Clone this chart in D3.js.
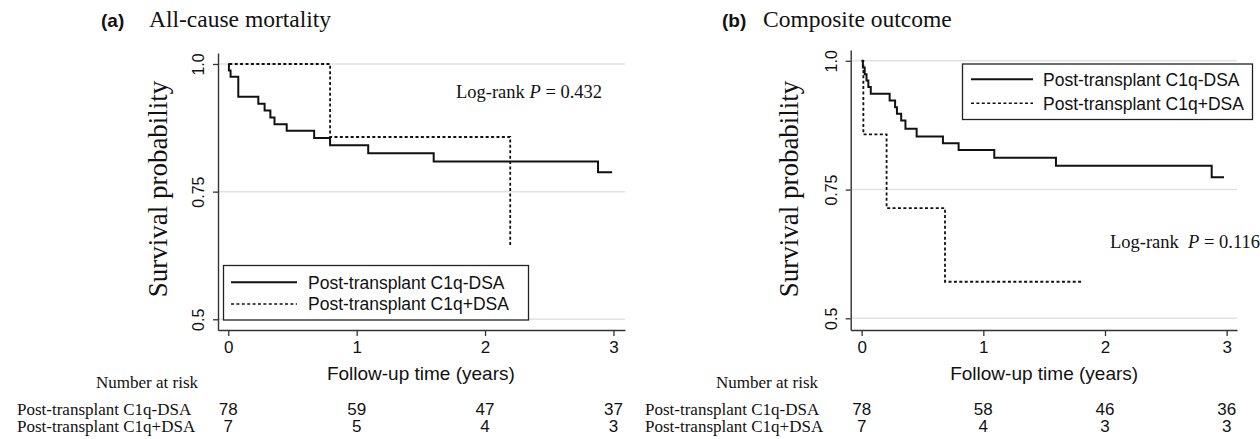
<!DOCTYPE html>
<html><head><meta charset="utf-8">
<script src="https://cdn.jsdelivr.net/npm/d3@7"></script>
<style>body{margin:0;background:#fff} svg{display:block}</style>
</head><body>
<svg id="chart" width="1260" height="439"></svg>
<script>
// ---------------- data ----------------
const timeTicks = [0, 1, 2, 3];
const yTicks = [0.5, 0.75, 1.0];
const yTickLabels = ["0.5", "0.75", "1.0"];
const seriesNames = ["Post-transplant C1q-DSA", "Post-transplant C1q+DSA"];

// (a) All-cause mortality
const aNegTime = [0, 0.005, 0.018, 0.078, 0.234, 0.283, 0.328, 0.36, 0.455, 0.669, 0.793, 1.09, 1.6, 2.88, 2.99];
const aNegSurv = [1.0, 0.987, 0.975, 0.936, 0.922, 0.909, 0.895, 0.882, 0.869, 0.855, 0.841, 0.825, 0.809, 0.788, 0.788];
const aPosTime = [0.008, 0.793, 2.196];
const aPosSurv = [1.0, 0.857, 0.643];
const aRiskNeg = [78, 59, 47, 37];
const aRiskPos = [7, 5, 4, 3];

// (b) Composite outcome
const bNegTime = [0, 0.01, 0.025, 0.04, 0.055, 0.075, 0.23, 0.275, 0.29, 0.325, 0.36, 0.452, 0.668, 0.797, 1.09, 1.597, 2.877, 2.978];
const bNegSurv = [1.0, 0.987, 0.974, 0.962, 0.949, 0.936, 0.923, 0.91, 0.897, 0.884, 0.868, 0.853, 0.84, 0.827, 0.812, 0.796, 0.774, 0.774];
const bPosTime = [0, 0.014, 0.205, 0.685, 1.816];
const bPosSurv = [1.0, 0.857, 0.714, 0.571, 0.571];
const bRiskNeg = [78, 58, 46, 36];
const bRiskPos = [7, 4, 3, 3];

// ---------------- drawing ----------------
const svg = d3.select("#chart");
const SERIF = "'Liberation Serif','Times New Roman',serif";
const SANS = "'Liberation Sans',Arial,Helvetica,sans-serif";

function drawPanel(cfg) {
  const g = svg.append("g");
  const x = d3.scaleLinear().domain(cfg.xDom).range(cfg.xRange);
  const y = d3.scaleLinear().domain(cfg.yDom).range([cfg.yBottom, cfg.yTop]);

  // gridlines
  g.append("g").selectAll("line").data(yTicks).join("line")
    .attr("x1", cfg.xRange[0]).attr("x2", cfg.xRange[1])
    .attr("y1", d => y(d)).attr("y2", d => y(d))
    .attr("stroke", "#e2e2e2").attr("stroke-width", 1.5);

  // y axis
  const ya = g.append("g").attr("transform", `translate(${cfg.xRange[0]},0)`)
    .call(d3.axisLeft(y).tickValues(yTicks).tickFormat((d, i) => yTickLabels[i]).tickSize(5).tickSizeOuter(0));
  ya.selectAll("text").attr("x", null).attr("dy", null)
    .attr("transform", "translate(-14,0) rotate(-90)")
    .attr("text-anchor", "middle")
    .style("font-family", SANS).style("font-size", "16px").attr("fill", "#111");

  // x axis
  const xa = g.append("g").attr("transform", `translate(0,${cfg.yBottom})`)
    .call(d3.axisBottom(x).tickValues(timeTicks).tickFormat(d3.format("d")).tickSize(6).tickPadding(5).tickSizeOuter(0));
  xa.selectAll("text").style("font-family", SANS).style("font-size", "17px").attr("fill", "#111");

  [ya, xa].forEach(a => {
    a.select(".domain").attr("stroke", "#333").attr("stroke-width", 1.4);
    a.selectAll(".tick line").attr("stroke", "#333").attr("stroke-width", 1.3);
  });

  // curves
  const line = d3.line().x(d => x(d[0])).y(d => y(d[1])).curve(d3.curveStepAfter);
  const negPts = cfg.negTime.map((t, i) => [t, cfg.negSurv[i]]);
  const posPts = cfg.posTime.map((t, i) => [t, cfg.posSurv[i]]);
  g.append("path").attr("d", line(posPts)).attr("fill", "none")
    .attr("stroke", "#111").attr("stroke-width", 1.8).attr("stroke-dasharray", "3,2.4");
  g.append("path").attr("d", line(negPts)).attr("fill", "none")
    .attr("stroke", "#111").attr("stroke-width", 2);

  // y title
  g.append("text").attr("transform", `translate(${cfg.yTitleX},${cfg.yTitleY}) rotate(-90)`)
    .attr("text-anchor", "middle").style("font-family", SERIF).style("font-size", "27px")
    .attr("fill", "#111").text("Survival probability");

  // x title
  g.append("text").attr("x", (x(0) + x(3)) / 2).attr("y", 380)
    .attr("text-anchor", "middle").style("font-family", SANS).style("font-size", "19px")
    .attr("fill", "#111").text("Follow-up time (years)");

  // panel title
  g.append("text").attr("x", cfg.titleX).attr("y", 27)
    .style("font-family", SANS).style("font-size", "19px").style("font-weight", "bold")
    .attr("fill", "#111").text(cfg.letter);
  g.append("text").attr("x", cfg.titleX2).attr("y", 27)
    .style("font-family", SERIF).style("font-size", "23.5px")
    .attr("fill", "#111").text(cfg.title);

  // log-rank
  const lr = g.append("text").attr("x", cfg.lrX).attr("y", cfg.lrY)
    .style("font-family", SERIF).style("font-size", "18.5px").attr("fill", "#111")
    .attr("xml:space", "preserve");
  lr.append("tspan").text(cfg.lrGap ? "Log-rank  " : "Log-rank ");
  lr.append("tspan").style("font-style", "italic").text("P");
  lr.append("tspan").text(" = " + cfg.pval);

  // legend
  const L = cfg.legend;
  g.append("rect").attr("x", L.x0).attr("y", L.y0).attr("width", L.x1 - L.x0).attr("height", L.y1 - L.y0)
    .attr("fill", "#fff").attr("stroke", "#222").attr("stroke-width", 1.3);
  seriesNames.forEach((name, i) => {
    const ry = L.rows[i];
    g.append("line").attr("x1", L.lx0).attr("x2", L.lx1).attr("y1", ry).attr("y2", ry)
      .attr("stroke", "#111").attr("stroke-width", i === 0 ? 2 : 1.6)
      .attr("stroke-dasharray", i === 0 ? null : "3,2.4");
    g.append("text").attr("x", L.tx).attr("y", ry).attr("dy", "0.36em")
      .style("font-family", SANS).style("font-size", "17.5px").attr("fill", "#111").text(name);
  });

  // risk table
  g.append("text").attr("x", cfg.riskLabelRight).attr("y", 388).attr("text-anchor", "end")
    .style("font-family", SERIF).style("font-size", "17px").attr("fill", "#111").text("Number at risk");
  const rows = [cfg.riskNeg, cfg.riskPos];
  const rowY = [415, 432];
  rows.forEach((vals, r) => {
    g.append("text").attr("x", cfg.riskLabelLeft).attr("y", rowY[r])
      .style("font-family", SERIF).style("font-size", "17px").attr("fill", "#111").text(seriesNames[r]);
    g.append("g").selectAll("text").data(vals).join("text")
      .attr("x", (d, i) => x(timeTicks[i])).attr("y", rowY[r]).attr("text-anchor", "middle")
      .style("font-family", SANS).style("font-size", "17px").attr("fill", "#111").text(d => d);
  });
}

drawPanel({
  xDom: [-0.08, 3.09], xRange: [218, 625], yDom: [0.479, 1.0215], yBottom: 330, yTop: 53,
  negTime: aNegTime, negSurv: aNegSurv, posTime: aPosTime, posSurv: aPosSurv,
  riskNeg: aRiskNeg, riskPos: aRiskPos,
  yTitleX: 167, yTitleY: 189, letter: "(a)", title: "All-cause mortality", titleX: 101, titleX2: 149,
  lrX: 456, lrY: 98, pval: "0.432", lrGap: false,
  legend: {x0: 223.5, x1: 528.5, y0: 265.5, y1: 320, lx0: 231, lx1: 297, rows: [282.3, 304], tx: 308},
  riskLabelLeft: 17, riskLabelRight: 198
});

drawPanel({
  xDom: [-0.09, 3.085], xRange: [850.7, 1237], yDom: [0.4773, 1.021], yBottom: 330, yTop: 50,
  negTime: bNegTime, negSurv: bNegSurv, posTime: bPosTime, posSurv: bPosSurv,
  riskNeg: bRiskNeg, riskPos: bRiskPos,
  yTitleX: 798, yTitleY: 189, letter: "(b)", title: "Composite outcome", titleX: 722, titleX2: 763,
  lrX: 1110, lrY: 248, pval: "0.116", lrGap: true,
  legend: {x0: 962.5, x1: 1252.5, y0: 64, y1: 119.5, lx0: 971, lx1: 1033, rows: [79.3, 103.3], tx: 1043},
  riskLabelLeft: 645, riskLabelRight: 818
});
</script>
</body></html>
